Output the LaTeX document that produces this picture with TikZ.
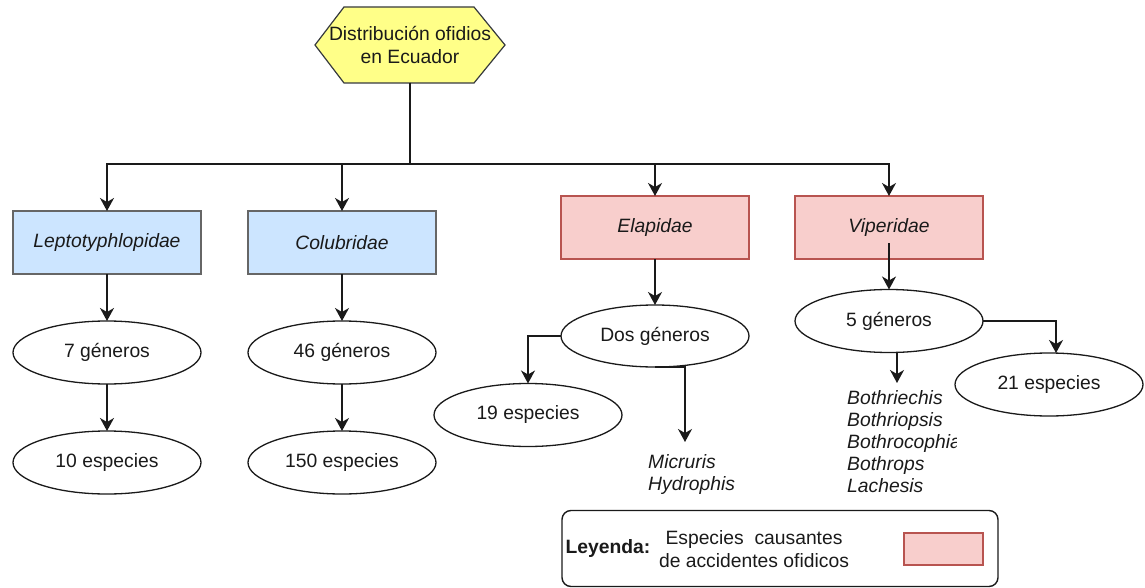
\documentclass[tikz,border=0pt]{standalone}
\usepackage{fontspec}
\setmainfont{Liberation Sans}
\usetikzlibrary{arrows.meta,shapes.geometric,backgrounds}
\definecolor{bluefill}{HTML}{CCE5FF}
\definecolor{bluebd}{HTML}{666666}
\definecolor{pinkfill}{HTML}{F8CECC}
\definecolor{pinkbd}{HTML}{B85450}
\definecolor{hexfill}{HTML}{FFFF88}
\definecolor{hexbd}{HTML}{36393D}
\definecolor{ink}{HTML}{1A1A1A}
\tikzset{
  basefont/.style={font=\fontsize{19.3}{23}\selectfont},
  famblue/.style={rectangle, draw=bluebd, fill=bluefill, line width=1.2pt,
    minimum width=188pt, minimum height=63pt, outer sep=0pt,
    font=\fontsize{19.3}{23}\selectfont\itshape},
  fampink/.style={famblue, draw=pinkbd, fill=pinkfill},
  oval/.style={ellipse, draw=ink, fill=white, line width=1.3pt,
    minimum width=188pt, minimum height=63pt, inner sep=0pt, outer sep=0pt},
  conn/.style={draw=ink, line width=1.4pt, -{Stealth[length=13pt,width=14pt,inset=4pt]}},
  plainline/.style={draw=ink, line width=1.4pt},
  listtxt/.style={align=left, inner sep=0pt, font=\fontsize{19.3}{22}\selectfont\itshape},
}
\begin{document}
\begin{tikzpicture}[x=1pt, y=-1pt, basefont, text=ink]
\useasboundingbox (0,0) rectangle (1145,588);

% title hexagon
\node[align=center, minimum width=190pt, minimum height=76pt, inner sep=0pt, outer sep=0pt]
  (hex) at (410,45) {Distribución ofidios\\en Ecuador};
\begin{scope}[on background layer]
  \filldraw[fill=hexfill, draw=hexbd, line width=1.2pt]
    (hex.west) -- ([xshift=29pt]hex.north west) -- ([xshift=-31pt]hex.north east)
    -- (hex.east) -- ([xshift=-31pt]hex.south east) -- ([xshift=29pt]hex.south west) -- cycle;
\end{scope}

% families
\node[famblue] (lep) at (107,242.5) {Leptotyphlopidae};
\node[famblue] (col) at (342,242.5) {Colubridae};
\node[fampink] (ela) at (655,227.5) {Elapidae};
\node[fampink] (vip) at (889,227.5) {Viperidae};

\coordinate (bus) at (410,164);
\draw[conn] (hex.south) -- (bus) -| (lep.north);
\draw[conn] (hex.south) -- (bus) -| (col.north);
\draw[conn] (hex.south) -- (bus) -| (ela.north);
\draw[conn] (hex.south) -- (bus) -| (vip.north);

% left columns
\node[oval] (g7) at (107,352.5) {7 géneros};
\node[oval] (e10) at (107,462.5) {10 especies};
\node[oval] (g46) at (342,352.5) {46 géneros};
\node[oval] (e150) at (342,462.5) {150 especies};
\draw[conn] (lep.south) -- (g7.north);
\draw[conn] (g7.south) -- (e10.north);
\draw[conn] (col.south) -- (g46.north);
\draw[conn] (g46.south) -- (e150.north);

% Elapidae
\node[oval, minimum height=62pt] (dos) at (655,336) {Dos géneros};
\node[oval] (e19) at (528,415) {19 especies};
\node[listtxt, anchor=north west] (mic) at (648,454) {Micruris\\Hydrophis};
\coordinate (micin) at (685,442);
\draw[conn] (ela.south) -- (dos.north);
\draw[conn] (dos.west) -| (e19.north);
\draw[conn] (dos.south) -| (micin);

% Viperidae
\node[oval] (g5) at (889,321) {5 géneros};
\node[oval] (e21) at (1049,384.5) {21 especies};
\draw[conn] ([yshift=16pt]vip.south) -- (g5.north);
\draw[conn] (g5.east) -| ([xshift=7pt]e21.north);
\coordinate (vipin) at (897,383);
\draw[conn] (g5.south) -| (vipin);
\begin{scope}
  \clip (840,380) rectangle (956,500);
  \node[listtxt, anchor=north west] (vlist) at (847,390)
    {Bothriechis\\Bothriopsis\\Bothrocophias\\Bothrops\\Lachesis};
\end{scope}

% legend
\node[draw=ink, rounded corners=9pt, line width=1.4pt, minimum width=436pt,
  minimum height=76pt, inner sep=0pt] (leg) at (780,548.5) {};
\node[font=\fontsize{19.3}{23}\selectfont\bfseries] (legt) at (608,549) {Leyenda:};
\node[align=center] (legd) at (754,549.5) {Especies\ \ causantes\\de accidentes ofidicos};
\node[draw=pinkbd, fill=pinkfill, line width=1.2pt, minimum width=79pt,
  minimum height=32pt, inner sep=0pt] (legbox) at (943.5,549) {};
\end{tikzpicture}
\end{document}
